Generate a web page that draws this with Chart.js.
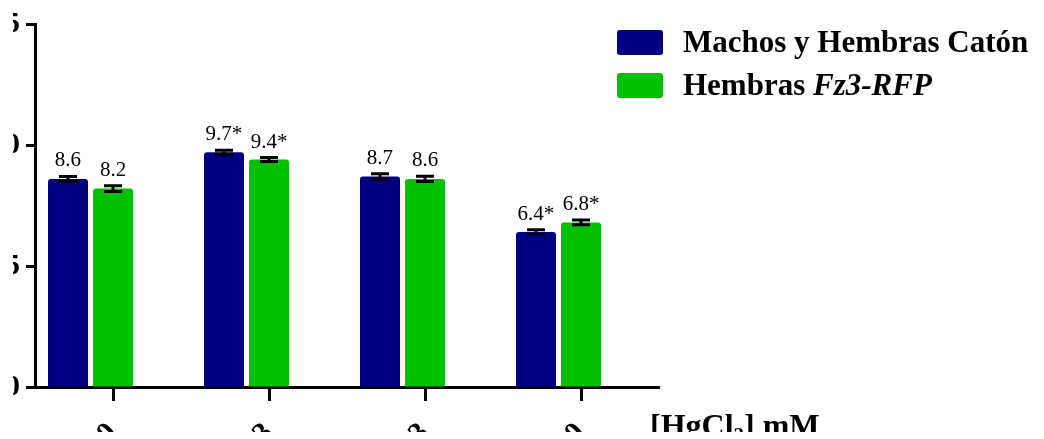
<!DOCTYPE html>
<html>
<head>
<meta charset="utf-8">
<script src="https://cdn.jsdelivr.net/npm/chart.js@4/dist/chart.umd.min.js"></script>
<style>
  html, body { margin: 0; padding: 0; background: #fff; width: 1044px; height: 439px; overflow: hidden; position: relative; }
  #frame { position: absolute; left: 0; top: 0; width: 1044px; height: 432px; overflow: hidden; }
  #plot { position: absolute; left: 13px; top: 0; }
  .legend-row { position: absolute; left: 617px; display: flex; align-items: center; font-family: "Liberation Serif", "Times New Roman", serif; font-weight: bold; font-size: 31px; color: #000; white-space: nowrap; }
  .swatch { width: 46px; height: 25px; border-radius: 3px; margin-right: 20px; flex: none; }
  #xTitle { position: absolute; left: 650px; top: 409px; font-family: "Liberation Serif", "Times New Roman", serif; font-weight: bold; font-size: 32px; line-height: 32px; color: #000; white-space: nowrap; }
  #xTitle sub { font-size: 21px; vertical-align: -6px; line-height: 0; }
</style>
</head>
<body>
<div id="frame">
  <canvas id="plot" width="760" height="432"></canvas>
  <div class="legend-row" style="top: 24px;"><div class="swatch" style="background:#000080"></div><span>Machos y Hembras Catón</span></div>
  <div class="legend-row" style="top: 67px;"><div class="swatch" style="background:#00C000"></div><span>Hembras <i>Fz3-RFP</i></span></div>
  <div id="xTitle">[HgCl<sub>2</sub>] mM</div>
</div>
<script>
// HgCl2 doses on the category axis
const doses = ['0', '0.03', '0.3', '3.0'];

// Mean values per group
const catonValues = [8.6, 9.7, 8.7, 6.4];
const fz3Values = [8.2, 9.4, 8.6, 6.8];

// Error (SEM) per group
const catonErrors = [0.10, 0.08, 0.11, 0.10];
const fz3Errors = [0.12, 0.08, 0.11, 0.10];

// Significance marks shown as "*"
const catonSignificant = [false, true, false, true];
const fz3Significant = [false, true, false, true];

// Y axis ticks
const yTicks = [0, 5, 10, 15];

const seriesNames = ['Machos y Hembras Catón', 'Hembras Fz3-RFP'];
const seriesColors = ['#000080', '#00C000'];

const errorsBySeries = [catonErrors, fz3Errors];
const marksBySeries = [catonSignificant, fz3Significant];

// Error bars and value labels drawn on top of each bar
const barAnnotations = {
  id: 'barAnnotations',
  afterDatasetsDraw(chart) {
    const ctx = chart.ctx;
    const y = chart.scales.y;
    [0, 1].forEach(di => {
      const meta = chart.getDatasetMeta(di);
      const values = chart.data.datasets[di].data;
      meta.data.forEach((bar, i) => {
        const v = values[i];
        const e = errorsBySeries[di][i];
        const yHi = y.getPixelForValue(v + e);
        const yLo = y.getPixelForValue(v - e);
        const cap = 9;
        ctx.save();
        ctx.strokeStyle = '#000';
        ctx.lineWidth = 3;
        ctx.beginPath();
        ctx.moveTo(bar.x, yHi); ctx.lineTo(bar.x, yLo);
        ctx.moveTo(bar.x - cap, yHi); ctx.lineTo(bar.x + cap, yHi);
        ctx.moveTo(bar.x - cap, yLo); ctx.lineTo(bar.x + cap, yLo);
        ctx.stroke();
        ctx.fillStyle = '#000';
        ctx.font = '21px "Liberation Serif", "Times New Roman", serif';
        ctx.textAlign = 'center';
        ctx.textBaseline = 'alphabetic';
        const text = v.toFixed(1) + (marksBySeries[di][i] ? '*' : '');
        ctx.fillText(text, bar.x, yHi - 10);
        ctx.restore();
      });
    });
  }
};

new Chart(document.getElementById('plot'), {
  type: 'bar',
  data: {
    labels: doses,
    datasets: [
      { label: seriesNames[0], data: catonValues, backgroundColor: seriesColors[0], borderRadius: 3 },
      { label: seriesNames[1], data: fz3Values, backgroundColor: seriesColors[1], borderRadius: 3 },
      // empty third slot so each pair sits left of its tick
      { label: '', data: doses.map(() => null), backgroundColor: 'rgba(0,0,0,0)' }
    ]
  },
  options: {
    responsive: false,
    animation: false,
    devicePixelRatio: 1,
    categoryPercentage: 0.8654,
    barPercentage: 0.8889,
    layout: { padding: { top: 18, right: 114, left: 0, bottom: 0 } },
    plugins: {
      legend: { display: false },
      tooltip: { enabled: false }
    },
    scales: {
      x: {
        type: 'category',
        offset: true,
        grid: { display: true, drawOnChartArea: false, offset: false, drawTicks: true, tickLength: 14, tickWidth: 3, tickColor: '#000' },
        border: { display: true, color: '#000', width: 3 },
        ticks: {
          color: '#000', padding: 15, autoSkip: false, minRotation: 45, maxRotation: 45,
          font: { family: '"Liberation Serif", "Times New Roman", serif', size: 30, weight: 'bold' }
        },
        afterFit(scale) { scale.height = 45; }
      },
      y: {
        min: yTicks[0],
        max: yTicks[yTicks.length - 1],
        grid: { display: true, drawOnChartArea: false, drawTicks: true, tickLength: 9, tickWidth: 3, tickColor: '#000' },
        border: { display: true, color: '#000', width: 3 },
        ticks: {
          stepSize: 5, color: '#000', padding: 6,
          font: { family: '"Liberation Serif", "Times New Roman", serif', size: 30, weight: 'bold' }
        },
        afterBuildTicks(scale) { scale.ticks = yTicks.map(v => ({ value: v })); },
        afterFit(scale) { scale.width = 22; }
      }
    }
  },
  plugins: [barAnnotations]
});
</script>
</body>
</html>
